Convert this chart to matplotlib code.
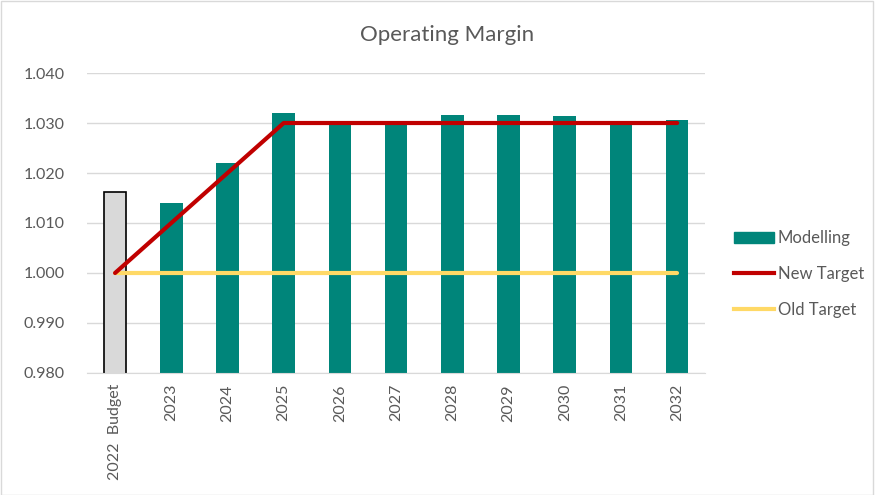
import matplotlib.pyplot as plt
from matplotlib.patches import Rectangle, Patch
from matplotlib.lines import Line2D

plt.rcParams['font.family'] = ['Lato', 'DejaVu Sans']

categories = ["2022  Budget", "2023", "2024", "2025", "2026", "2027",
              "2028", "2029", "2030", "2031", "2032"]
modelling = [1.0162, 1.0140, 1.0220, 1.0320, 1.0298, 1.0302,
             1.0316, 1.0316, 1.0314, 1.0300, 1.0307]
new_target = [1.000, 1.010, 1.020, 1.030, 1.030, 1.030,
              1.030, 1.030, 1.030, 1.030, 1.030]
old_target = [1.000] * 11

TEXT = "#595959"
TEAL = "#00857A"

fig = plt.figure(figsize=(8.75, 4.95), dpi=100)
ax = fig.add_axes([0.0994, 0.2465, 0.7066, 0.606])

x = list(range(len(categories)))
colors = ["#D9D9D9"] + [TEAL] * (len(x) - 1)
edges = ["black"] + [TEAL] * (len(x) - 1)
lws = [1.2] + [0] * (len(x) - 1)
ax.bar(x, modelling, width=0.4, color=colors, edgecolor=edges, linewidth=lws, zorder=2)
ax.plot(x, new_target, color="#C00000", lw=3, zorder=4, solid_capstyle="round")
ax.plot(x, old_target, color="#FFD966", lw=3, zorder=3, solid_capstyle="round")

ax.set_ylim(0.980, 1.040)
ax.set_xlim(-0.5, len(x) - 0.5)
ax.set_yticks([0.98, 0.99, 1.00, 1.01, 1.02, 1.03, 1.04])
ax.yaxis.set_major_formatter(plt.FuncFormatter(lambda v, p: f"{v:.3f}"))
ax.set_xticks(x)
ax.set_xticklabels(categories, rotation=90)
ax.tick_params(axis="both", length=0, colors=TEXT, labelsize=11.5)
ax.tick_params(axis="x", pad=8)
ax.tick_params(axis="y", pad=16)
ax.grid(axis="y", color="#D9D9D9", lw=1, zorder=0)
ax.set_axisbelow(True)
for s in ["top", "right", "left"]:
    ax.spines[s].set_visible(False)
ax.spines["bottom"].set_color("#D9D9D9")
ax.spines["bottom"].set_zorder(5)

fig.text(0.511, 0.93, "Operating Margin", ha="center", va="center", fontsize=16, color=TEXT)

handles = [Patch(color=TEAL, label="Modelling"),
           Line2D([], [], color="#C00000", lw=3, label="New Target"),
           Line2D([], [], color="#FFD966", lw=3, label="Old Target")]
fig.legend(handles=handles, loc="center left", bbox_to_anchor=(0.822, 0.446),
           frameon=False, fontsize=12, labelcolor=TEXT, handlelength=2.4,
           handletextpad=0.2, labelspacing=1.2, handleheight=0.7)

fig.patches.append(Rectangle((0.001, 0.001), 0.997, 0.997, transform=fig.transFigure,
                             fill=False, edgecolor="#D9D9D9", lw=1))

fig.savefig("out.png", dpi=100)
